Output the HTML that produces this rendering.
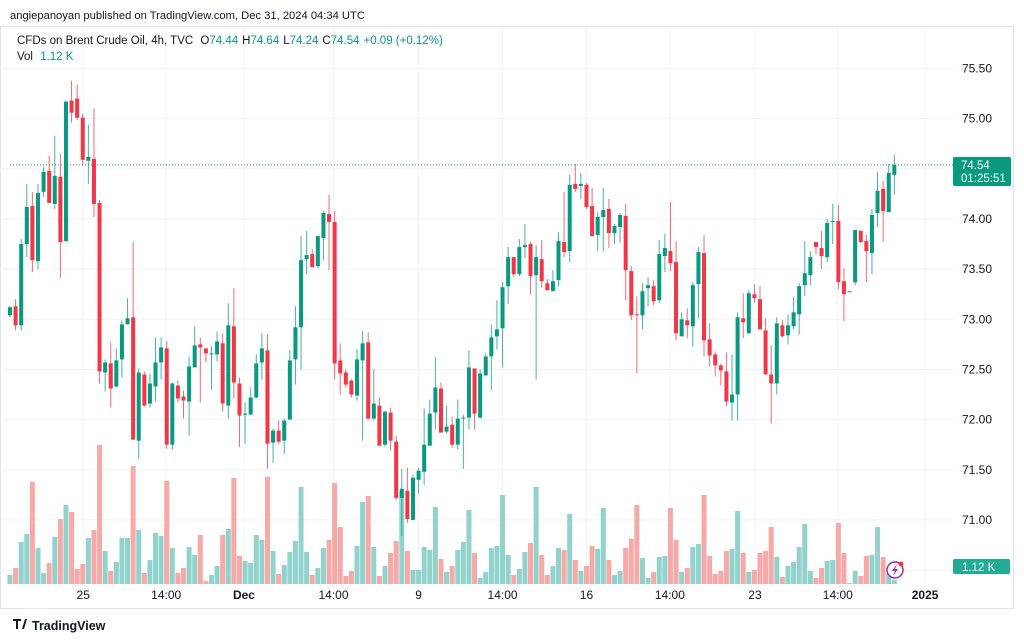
<!DOCTYPE html>
<html><head><meta charset="utf-8"><style>
html,body{margin:0;padding:0;background:#fff;}
svg{display:block;font-family:"Liberation Sans",sans-serif;}
</style></head><body>
<svg id="chart" width="1024" height="641" viewBox="0 0 1024 641" xmlns="http://www.w3.org/2000/svg">
<text x="10" y="19" font-size="11.2" fill="#131722">angiepanoyan published on TradingView.com, Dec 31, 2024 04:34 UTC</text>
<rect x="0.5" y="26.5" width="1013" height="582" fill="#fff" stroke="#e0e3eb"/>
<g id="grid"></g>
<g id="vol"></g>
<g id="candles"></g>
<g id="yaxis"></g>
<g id="xaxis"></g>
<g font-size="11.5">
<text x="17" y="44" fill="#131722">CFDs on Brent Crude Oil, 4h, TVC <tspan dx="4">O</tspan><tspan fill="#089981">74.44</tspan><tspan dx="4">H</tspan><tspan fill="#089981">74.64</tspan><tspan dx="4">L</tspan><tspan fill="#089981">74.24</tspan><tspan dx="4">C</tspan><tspan fill="#089981">74.54</tspan><tspan dx="4" fill="#089981">+0.09 (+0.12%)</tspan></text>
<text x="17" y="60" fill="#131722">Vol <tspan dx="4" fill="#089981">1.12 K</tspan></text>
</g>
<g>
<rect x="953" y="157" width="58" height="29" rx="2" fill="#089981"/>
<text x="961" y="169" font-size="11.5" fill="#fff">74.54</text>
<text x="961" y="182" font-size="11.5" fill="#fff">01:25:51</text>
</g>
<g>
<rect x="953" y="559" width="57" height="15" rx="2" fill="#22ab94"/>
<text x="962" y="571" font-size="11.5" fill="#fff">1.12 K</text>
</g>
<g>
<circle cx="895" cy="570" r="8" fill="#fff" stroke="#9c27b0" stroke-width="1.5"/>
<path d="M897 564 L892 571 L895 571 L893 576 L898 569 L895 569 Z" fill="#9c27b0"/>
<circle cx="901" cy="564" r="2.5" fill="#f23645"/>
</g>
<g>
<path d="M13 619 h8 v2 h-3 v8 h-2 v-8 h-3 z M22 629 l3 -10 h2 l-3 10 z" fill="#131722"/>
<text x="32" y="630" font-size="12.5" font-weight="bold" fill="#131722">TradingView</text>
</g>
</svg>
<script>
const opens=[73.04,73.13,72.94,73.75,74.13,73.58,74.27,74.48,74.15,74.42,73.78,75.18,75.20,75.01,74.58,74.60,74.16,72.47,72.56,72.33,72.60,72.95,73.02,71.79,72.45,72.16,72.33,72.57,72.71,71.75,72.34,72.23,72.18,72.52,72.75,72.71,72.65,72.65,72.76,72.14,72.93,72.36,72.05,72.05,72.22,72.57,72.69,71.77,71.89,71.79,72.00,72.60,72.92,73.60,73.65,73.53,73.81,74.05,73.97,72.59,72.47,72.39,72.24,72.59,72.77,72.01,72.14,71.75,72.07,71.78,71.22,71.29,71.00,71.40,71.48,71.74,72.07,72.31,71.88,71.95,71.75,72.01,72.02,72.51,72.02,72.44,72.63,72.83,72.91,73.33,73.62,73.45,73.72,73.75,73.44,73.60,73.36,73.28,73.39,73.77,73.68,74.35,74.33,74.34,74.13,73.84,74.02,74.10,73.86,73.92,74.03,73.48,73.05,73.04,73.31,73.33,73.19,73.63,73.68,73.57,72.83,72.99,72.93,73.35,73.66,72.80,72.65,72.54,72.48,72.17,72.25,73.01,72.86,73.25,73.20,72.89,72.45,72.36,72.94,72.84,72.93,73.05,73.34,73.44,73.77,73.71,73.62,73.97,73.98,73.38,73.28,73.37,73.88,73.78,73.66,74.06,74.30,74.07,74.44];
const highs=[73.13,73.20,73.80,74.35,74.27,74.35,74.52,74.63,74.83,74.65,75.18,75.38,75.34,75.05,74.94,75.10,74.19,72.60,72.77,72.71,72.99,73.21,73.77,72.51,72.48,72.46,72.82,72.82,72.78,72.37,72.39,72.29,72.63,72.93,72.82,72.71,72.73,72.88,72.86,73.16,73.31,72.42,72.17,72.32,72.65,72.86,72.85,71.91,71.99,72.01,72.69,73.13,73.83,73.88,73.70,73.83,74.08,74.24,74.08,72.76,72.50,72.40,72.70,72.88,72.87,72.50,72.22,72.08,72.12,71.84,71.51,71.52,71.45,71.52,72.11,72.20,72.62,72.37,72.14,72.03,72.20,72.05,72.69,72.51,72.50,72.66,72.95,73.19,73.37,73.72,73.62,73.80,73.95,73.77,73.74,73.79,73.40,73.49,73.87,74.27,74.44,74.55,74.46,74.36,74.31,74.07,74.31,74.20,73.95,74.06,74.15,73.53,73.23,73.36,73.42,73.39,73.79,73.85,74.17,73.78,73.07,73.11,73.37,73.72,73.84,72.96,72.68,72.56,72.67,72.65,73.07,73.26,73.29,73.35,73.33,73.01,72.74,73.02,72.99,73.05,73.22,73.36,73.78,73.68,73.77,73.88,74.00,74.15,74.14,73.51,73.28,73.89,73.89,73.84,74.10,74.47,74.38,74.55,74.64];
const lows=[73.02,72.89,72.89,73.62,73.47,73.50,74.22,74.16,74.10,73.41,73.77,74.96,74.99,74.54,74.35,74.02,72.36,72.28,72.12,72.32,72.42,72.95,71.80,71.61,72.13,72.12,72.18,72.40,71.71,71.70,72.17,72.01,71.84,72.52,72.17,72.57,72.30,72.58,72.08,72.01,72.21,71.73,71.76,72.05,72.21,72.40,71.51,71.57,71.76,71.66,72.00,72.35,72.50,73.45,73.52,73.51,73.59,73.49,72.40,72.25,72.32,72.22,72.19,71.79,72.00,71.99,71.74,71.73,71.69,71.20,70.84,70.97,71.00,71.26,71.35,71.74,71.90,71.87,71.86,71.72,71.70,71.51,71.90,71.90,72.01,72.44,72.29,72.70,72.52,73.15,73.42,73.43,73.61,73.25,72.40,73.32,73.29,73.28,73.33,73.62,73.57,74.27,74.20,74.10,73.83,73.68,73.68,73.71,73.75,73.76,73.19,72.99,72.46,72.90,73.13,73.14,73.16,73.47,73.48,72.79,72.83,72.81,72.73,73.01,72.63,72.53,72.43,72.34,72.13,71.99,71.99,72.81,72.86,73.16,72.90,72.45,71.96,72.25,72.82,72.75,72.90,72.85,73.23,73.34,73.65,73.50,73.57,73.75,73.30,72.98,73.27,73.34,73.76,73.37,73.45,73.92,73.77,74.07,74.24];
const closes=[73.12,72.94,73.75,74.12,73.59,74.26,74.47,74.16,74.43,73.77,75.17,75.06,75.01,74.59,74.62,74.15,72.48,72.57,72.31,72.59,72.95,73.01,71.80,72.47,72.14,72.36,72.57,72.72,71.75,72.36,72.21,72.19,72.53,72.74,72.72,72.66,72.66,72.78,72.16,72.94,72.37,72.04,72.06,72.22,72.56,72.71,71.76,71.89,71.78,71.99,72.59,72.92,73.59,73.64,73.52,73.83,74.06,73.97,72.56,72.46,72.35,72.25,72.60,72.76,72.01,72.16,71.74,72.08,71.79,71.22,71.31,71.01,71.42,71.49,71.75,72.06,72.32,71.87,71.93,71.75,72.01,72.02,72.52,72.06,72.46,72.63,72.82,72.90,73.32,73.62,73.45,73.72,73.74,73.43,73.62,73.38,73.29,73.38,73.78,73.67,74.34,74.30,74.35,74.12,73.83,74.02,74.09,73.86,73.93,74.04,73.49,73.04,73.04,73.28,73.34,73.18,73.65,73.71,73.56,72.86,73.00,72.94,73.34,73.67,72.79,72.64,72.54,72.49,72.18,72.25,73.02,72.97,73.26,73.21,72.90,72.45,72.36,72.96,72.83,72.94,73.07,73.33,73.46,73.62,73.72,73.63,73.96,73.98,73.37,73.25,73.27,73.89,73.77,73.68,74.04,74.28,74.08,74.46,74.54];
const volumes=[9,16,42,50,102,36,11,21,47,65,79,72,15,20,46,54,139,33,13,22,46,46,118,54,11,24,51,48,103,36,11,16,37,29,49,3,9,18,49,55,106,28,23,21,49,44,107,33,10,19,32,43,97,32,9,16,36,44,101,57,8,13,38,82,88,37,8,18,31,43,92,33,14,14,37,34,77,25,12,18,34,42,74,31,6,12,36,38,89,29,9,15,32,41,97,29,9,18,36,34,70,24,13,18,38,35,76,24,9,13,36,45,79,26,6,12,27,28,76,44,12,16,37,40,89,28,10,13,33,35,73,31,12,14,31,33,57,27,7,18,22,37,60,13,6,16,23,24,61,31,1,13,8,28,29,57,27,10,4];
const priceTicks=[75.5,75.0,74.5,74.0,73.5,73.0,72.5,72.0,71.5,71.0,70.5];
const priceTickLabels=["75.50","75.00",null,"74.00","73.50","73.00","72.50","72.00","71.50","71.00",null];
const timeLabels=["25","14:00","Dec","14:00","9","14:00","16","14:00","23","14:00","2025"];
const timeLabelBars=[13.08,27.9,41.8,57.8,73,88,103,117.9,133.1,147.9,163.5];
const timeLabelBold=[false,false,true,false,false,false,false,false,false,false,true];
const lastPrice=74.54;

const NS="http://www.w3.org/2000/svg";
const PLOT_R=953, VOL_BASE=584, VOL_MAX=140, VOL_H=140;
function xs(i){return 10+i*5.597;}
function ys(p){return 219+(74-p)*100.3;}
function yv(v){return VOL_BASE-v/VOL_MAX*VOL_H;}
function mk(tag,attrs,parent){const e=document.createElementNS(NS,tag);for(const k in attrs)e.setAttribute(k,attrs[k]);parent.appendChild(e);return e;}

const grid=document.getElementById('grid');
priceTicks.forEach(function(p){
  const l=mk('line',{x1:0,x2:PLOT_R,y1:ys(p),y2:ys(p),stroke:'#f0f3fa','stroke-width':1},grid);
  
  
});
timeLabelBars.forEach(function(b){
  const l=mk('line',{x1:xs(b),x2:xs(b),y1:27,y2:VOL_BASE,stroke:'#f0f3fa','stroke-width':1},grid);
  
  
});

const vg=document.getElementById('vol');
volumes.forEach(function(v,i){
  const up=closes[i]>=opens[i];
  const r=mk('rect',{x:xs(i)-2.5,y:yv(v),width:5,height:VOL_BASE-yv(v),fill:up?'#92d2cc':'#f7a9a7'},vg);
  
  
});

const cg=document.getElementById('candles');
const pl=mk('line',{x1:10,x2:PLOT_R,y1:ys(lastPrice),y2:ys(lastPrice),stroke:'#089981','stroke-width':1,'stroke-dasharray':'1 2'},cg);


opens.forEach(function(o,i){
  const c=closes[i], up=c>=o, col=up?'#089981':'#f23645';
  const g=mk('g',{},cg);
  
  
  mk('line',{x1:xs(i),x2:xs(i),y1:ys(highs[i]),y2:ys(lows[i]),stroke:col,'stroke-width':1,'stroke-opacity':0.75},g);
  const top=ys(Math.max(o,c)), bot=ys(Math.min(o,c));
  mk('rect',{x:xs(i)-2,y:top,width:4,height:Math.max(1,bot-top),fill:col},g);
});

const ya=document.getElementById('yaxis');
priceTicks.forEach(function(p,i){
  if(!priceTickLabels[i])return;
  const t=mk('text',{x:962,y:ys(p)+4,'font-size':12,fill:'#131722'},ya);
  t.textContent=priceTickLabels[i];
  
  
});
const xa=document.getElementById('xaxis');
timeLabels.forEach(function(s,i){
  const t=mk('text',{x:xs(timeLabelBars[i]),y:599,'font-size':12,fill:'#131722','text-anchor':'middle','font-weight':timeLabelBold[i]?'bold':'normal'},xa);
  t.textContent=s;
  
  
});
</script>
</body></html>
